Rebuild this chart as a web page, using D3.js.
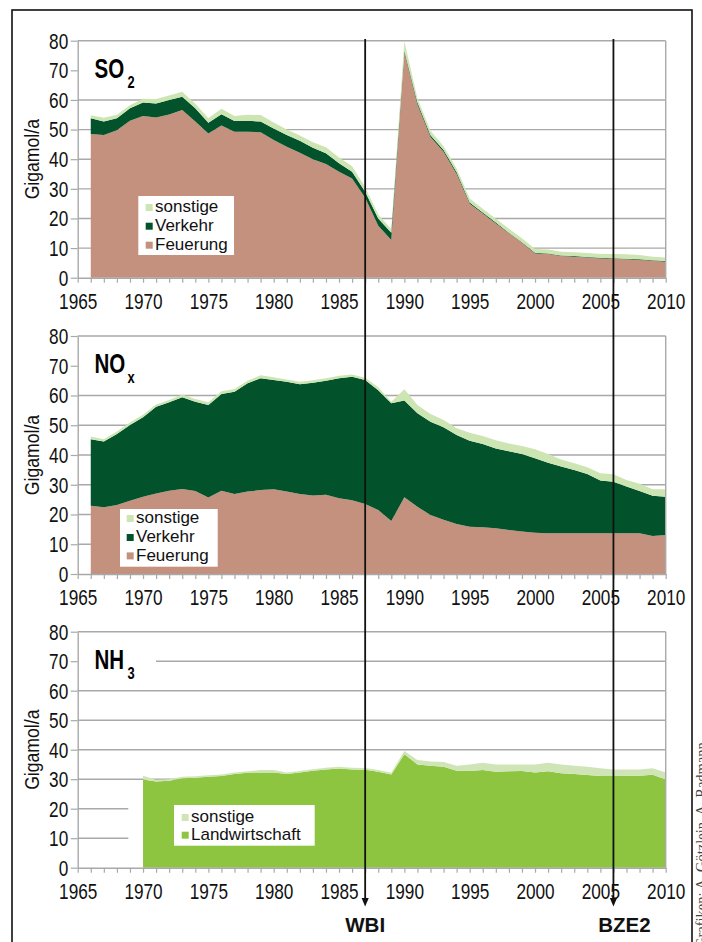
<!DOCTYPE html>
<html><head><meta charset="utf-8">
<script src="https://cdn.jsdelivr.net/npm/d3@7"></script>
<style>
html,body{margin:0;padding:0;background:#fff;}
svg{display:block;}
</style></head><body>
<svg id="chart" width="702" height="942"></svg>
<script>
// ---------------- DATA ----------------
const firstYear = 1966, lastYear = 2010;
const nh3FirstYear = 1970;
const xTickLabels = [1965, 1970, 1975, 1980, 1985, 1990, 1995, 2000, 2005, 2010];
const yTickValues = [0, 10, 20, 30, 40, 50, 60, 70, 80];

// SO2 (Gigamol/a), 1966-2010
const so2Feuerung = [48.5, 48.2, 49.8, 53.0, 54.6, 54.1, 55.1, 56.6, 52.7, 48.7,
  51.4, 49.3, 49.3, 49.1, 46.5, 44.2, 42.2, 40.0, 38.4, 35.8,
  33.5, 27.0, 17.5, 12.7, 76.0, 58.5, 47.5, 42.5, 35.0, 25.0,
  21.7, 18.3, 15.0, 11.8, 8.2, 8.0, 7.3, 7.1, 6.8, 6.5,
  6.4, 6.2, 6.0, 5.7, 5.4];
const so2Verkehr = [5.3, 4.5, 4.0, 4.2, 4.5, 4.7, 4.9, 4.5, 4.5, 3.6,
  3.8, 3.6, 3.7, 3.6, 3.9, 4.0, 4.0, 3.9, 3.6, 2.8,
  2.3, 2.0, 2.5, 2.5, 0.6, 0.6, 0.6, 0.6, 0.6, 0.4,
  0.3, 0.3, 0.2, 0.2, 0.2, 0.2, 0.2, 0.2, 0.2, 0.2,
  0.2, 0.2, 0.2, 0.2, 0.2];
const so2Sonstige = [1.0, 1.3, 1.2, 1.0, 1.3, 1.5, 1.5, 1.7, 1.5, 1.5,
  1.8, 1.7, 2.0, 2.2, 2.0, 1.8, 1.8, 1.8, 2.0, 2.0,
  1.8, 1.5, 1.3, 1.2, 3.2, 1.5, 1.5, 1.3, 1.3, 1.3,
  1.3, 1.3, 1.3, 1.3, 1.3, 1.3, 1.3, 1.3, 1.3, 1.3,
  1.4, 1.5, 1.5, 1.2, 1.2];

// NOx (Gigamol/a), 1966-2010
const noxFeuerung = [22.9, 22.4, 23.2, 24.6, 26.0, 27.1, 28.0, 28.6, 27.9, 25.7,
  28.0, 26.9, 27.7, 28.2, 28.5, 27.7, 26.9, 26.4, 26.6, 25.5,
  24.8, 23.5, 21.5, 17.8, 25.8, 22.6, 19.8, 18.2, 16.8, 15.9,
  15.7, 15.4, 14.8, 14.3, 13.9, 13.7, 13.7, 13.7, 13.7, 13.7,
  13.7, 13.7, 13.7, 12.8, 13.1];
const noxVerkehr = [22.4, 22.1, 23.9, 25.5, 26.7, 29.1, 29.7, 30.8, 30.0, 31.1,
  32.5, 34.4, 36.4, 37.6, 36.7, 36.9, 36.9, 37.9, 38.4, 40.3,
  41.5, 41.7, 40.3, 39.6, 32.5, 31.4, 31.4, 31.1, 29.9, 28.9,
  28.0, 26.8, 26.5, 26.0, 25.0, 23.7, 22.4, 21.3, 19.9, 17.7,
  17.3, 15.7, 14.2, 13.5, 12.9];
const noxSonstige = [0.9, 0.8, 0.8, 0.8, 0.8, 0.8, 0.8, 0.9, 0.9, 0.9,
  0.9, 0.9, 0.9, 1.0, 0.9, 0.8, 0.8, 0.8, 0.8, 0.8,
  0.8, 0.8, 1.0, 0.5, 3.8, 2.8, 2.6, 2.5, 2.3, 2.7,
  2.7, 2.8, 2.6, 2.7, 3.0, 2.9, 2.4, 2.2, 2.3, 2.5,
  2.5, 2.2, 2.4, 2.2, 2.5];

// NH3 (Gigamol/a), 1970-2010
const nh3Landwirtschaft = [29.9, 29.2, 29.5, 30.3, 30.5, 30.8, 31.1, 31.8, 32.2, 32.3,
  32.3, 31.8, 32.3, 32.9, 33.3, 33.6, 33.3, 33.2, 32.5, 31.6,
  38.5, 35.0, 34.6, 34.2, 32.9, 32.8, 33.1, 32.5, 32.7, 32.8,
  32.3, 32.7, 32.0, 31.8, 31.4, 31.1, 31.1, 31.2, 31.2, 31.5,
  29.9];
const nh3Sonstige = [1.3, 0.6, 0.5, 0.5, 0.5, 0.5, 0.5, 0.5, 0.5, 0.8,
  0.8, 0.5, 0.5, 0.5, 0.6, 0.6, 0.6, 0.6, 0.6, 0.6,
  1.1, 1.5, 1.4, 1.6, 1.7, 2.2, 2.5, 2.5, 2.3, 2.2,
  2.7, 2.9, 3.0, 2.8, 2.8, 2.6, 2.2, 2.1, 2.1, 2.2,
  2.4];

const markerYears = [1987, 2006];
const markerLabels = ["WBI", "BZE2"];

// ---------------- DRAW ----------------
const svg = d3.select("#chart");
const SANS = '"Liberation Sans",Arial,Helvetica,sans-serif';
const GRID = "#a9a9a9";
const NARROW_SX = 0.8;
const C = {
  feuerung: "#c4917f", verkehr: "#02532b", sonstige: "#cde5b2",
  landw: "#8dc540", sonstigeNH3: "#cfe5b8"
};

// outer frame
svg.append("rect").attr("x", 12).attr("y", 10).attr("width", 680).attr("height", 980)
  .attr("fill", "none").attr("stroke", "#111").attr("stroke-width", 1.6);

const x = d3.scaleLinear().domain([1965, 2010]).range([77.7, 665.7]);

const panels = [
  {
    top: 40.7, bottom: 277.7, title: "SO", sub: "2",
    years: d3.range(firstYear, lastYear + 1),
    keys: ["Feuerung", "Verkehr", "sonstige"],
    series: { Feuerung: so2Feuerung, Verkehr: so2Verkehr, sonstige: so2Sonstige },
    colors: { Feuerung: C.feuerung, Verkehr: C.verkehr, sonstige: C.sonstige },
    grid: { 70: null },
    legend: { x: 138.3, y: 196, w: 95.7, h: 59, sx: 145.7, tx: 155, rows: [16.3, 35, 54], items: ["sonstige", "Verkehr", "Feuerung"] }
  },
  {
    top: 336, bottom: 574, title: "NO", sub: "x",
    years: d3.range(firstYear, lastYear + 1),
    keys: ["Feuerung", "Verkehr", "sonstige"],
    series: { Feuerung: noxFeuerung, Verkehr: noxVerkehr, sonstige: noxSonstige },
    colors: { Feuerung: C.feuerung, Verkehr: C.verkehr, sonstige: C.sonstige },
    grid: { 70: null },
    legend: { x: 120, y: 509, w: 97.7, h: 57.7, sx: 126.7, tx: 136, rows: [14.3, 33.3, 51.7], items: ["sonstige", "Verkehr", "Feuerung"] }
  },
  {
    top: 631.7, bottom: 867.7, title: "NH", sub: "3",
    years: d3.range(nh3FirstYear, lastYear + 1),
    keys: ["Landwirtschaft", "sonstige"],
    series: { Landwirtschaft: nh3Landwirtschaft, sonstige: nh3Sonstige },
    colors: { Landwirtschaft: C.landw, sonstige: C.sonstigeNH3 },
    grid: { 70: [156, 665.7], 20: [77.7, 128.3], 10: [77.7, 128.3] },
    legend: { x: 174, y: 805, w: 140.7, h: 40.7, sx: 181.7, tx: 191, rows: [17.3, 35], items: ["sonstige", "Landwirtschaft"] }
  }
];

panels.forEach(p => {
  const y = d3.scaleLinear().domain([0, 80]).range([p.bottom, p.top]);
  const g = svg.append("g");

  // gridlines
  yTickValues.filter(v => v > 0).forEach(v => {
    let span = [x.range()[0], x.range()[1]];
    if (p.grid.hasOwnProperty(v)) { span = p.grid[v]; }
    if (!span) return;
    g.append("line").attr("x1", span[0]).attr("x2", span[1])
      .attr("y1", y(v)).attr("y2", y(v))
      .attr("stroke", GRID).attr("stroke-width", 1.4);
  });

  // stacked areas
  const rows = p.years.map((yr, i) => {
    const r = { year: yr };
    p.keys.forEach(k => r[k] = p.series[k][i]);
    return r;
  });
  const stacked = d3.stack().keys(p.keys)(rows);
  const area = d3.area()
    .x(d => x(d.data.year))
    .y0(d => y(d[0]))
    .y1(d => y(d[1]));
  g.selectAll("path.layer").data(stacked).join("path")
    .attr("class", "layer")
    .attr("d", area)
    .attr("fill", d => p.colors[d.key]);

  // plot border right
  g.append("line").attr("x1", x.range()[1]).attr("x2", x.range()[1])
    .attr("y1", y(80)).attr("y2", y(0)).attr("stroke", GRID).attr("stroke-width", 1.4);

  // x axis
  const xAxis = d3.axisBottom(x)
    .tickValues(d3.range(1965, 2011))
    .tickFormat(d => xTickLabels.includes(d) ? d : "")
    .tickSize(5).tickPadding(11).tickSizeOuter(0);
  const xa = g.append("g").attr("transform", `translate(0,${y(0)})`).call(xAxis);
  xa.select(".domain").attr("stroke", GRID).attr("stroke-width", 1.4);
  xa.selectAll(".tick line").attr("stroke", GRID).attr("stroke-width", 1.2);
  xa.selectAll(".tick text").attr("fill", "#111").attr("font-size", 21.5)
    .style("font-family", SANS).attr("transform", `scale(${NARROW_SX},1)`);

  // y axis
  const yAxis = d3.axisLeft(y).tickValues(yTickValues).tickSize(7).tickPadding(2).tickSizeOuter(0);
  const ya = g.append("g").attr("transform", `translate(${x.range()[0]},0)`).call(yAxis);
  ya.select(".domain").attr("stroke", GRID).attr("stroke-width", 1.4);
  ya.selectAll(".tick line").attr("stroke", GRID).attr("stroke-width", 1.2);
  ya.selectAll(".tick text").attr("fill", "#111").attr("font-size", 21.5)
    .style("font-family", SANS).attr("dy", "0.34em")
    .attr("x", -9.5 / NARROW_SX).attr("transform", `scale(${NARROW_SX},1)`);

  // y label
  const cy = (p.top + p.bottom) / 2;
  g.append("text").attr("transform", `translate(38.5,${cy}) rotate(-90) scale(0.86,1)`)
    .attr("text-anchor", "middle").attr("font-size", 20.5)
    .style("font-family", SANS).attr("fill", "#111").text("Gigamol/a");

  // title
  g.append("text").attr("transform", `translate(94.5,${p.top + 36.8}) scale(0.72,1)`)
    .attr("font-weight", "bold").attr("font-size", 28.5)
    .style("font-family", SANS).attr("fill", "#000").text(p.title);
  g.append("text").attr("transform", `translate(127.5,${p.top + 47.4}) scale(0.78,1)`)
    .attr("font-weight", "bold").attr("font-size", 16.5)
    .style("font-family", SANS).attr("fill", "#000").text(p.sub);

  // legend
  const L = p.legend;
  const lg = g.append("g");
  lg.append("rect").attr("x", L.x).attr("y", L.y).attr("width", L.w).attr("height", L.h).attr("fill", "#fff");
  L.items.forEach((k, i) => {
    const by = L.y + L.rows[i];
    lg.append("rect").attr("x", L.sx).attr("y", by - 8.3).attr("width", 7).attr("height", 7)
      .attr("fill", p.colors[k]);
    lg.append("text").attr("x", L.tx).attr("y", by).attr("font-size", 17)
      .style("font-family", SANS).attr("fill", "#111").text(k);
  });
});

// marker lines (WBI, BZE2)
markerYears.forEach((yr, i) => {
  const mx = x(yr);
  svg.append("line").attr("x1", mx).attr("x2", mx).attr("y1", 39).attr("y2", 900)
    .attr("stroke", "#111").attr("stroke-width", 1.8);
  svg.append("path").attr("d", `M${mx - 3.6},${898} L${mx + 3.6},${898} L${mx},${906.5} Z`).attr("fill", "#111");
  svg.append("text").attr("x", mx + (i === 0 ? 0 : 11)).attr("y", 931.5)
    .attr("text-anchor", "middle").attr("font-weight", "bold").attr("font-size", 20.5)
    .style("font-family", SANS).attr("fill", "#111").text(markerLabels[i]);
});

// credit
svg.append("text").attr("transform", "translate(706,948) rotate(-90)")
  .attr("font-size", 14.5).style("font-family", '"Liberation Serif","DejaVu Serif",serif')
  .attr("fill", "#444").text("Grafiken: A. Götzlein, A. Radmann");
</script>
</body></html>
